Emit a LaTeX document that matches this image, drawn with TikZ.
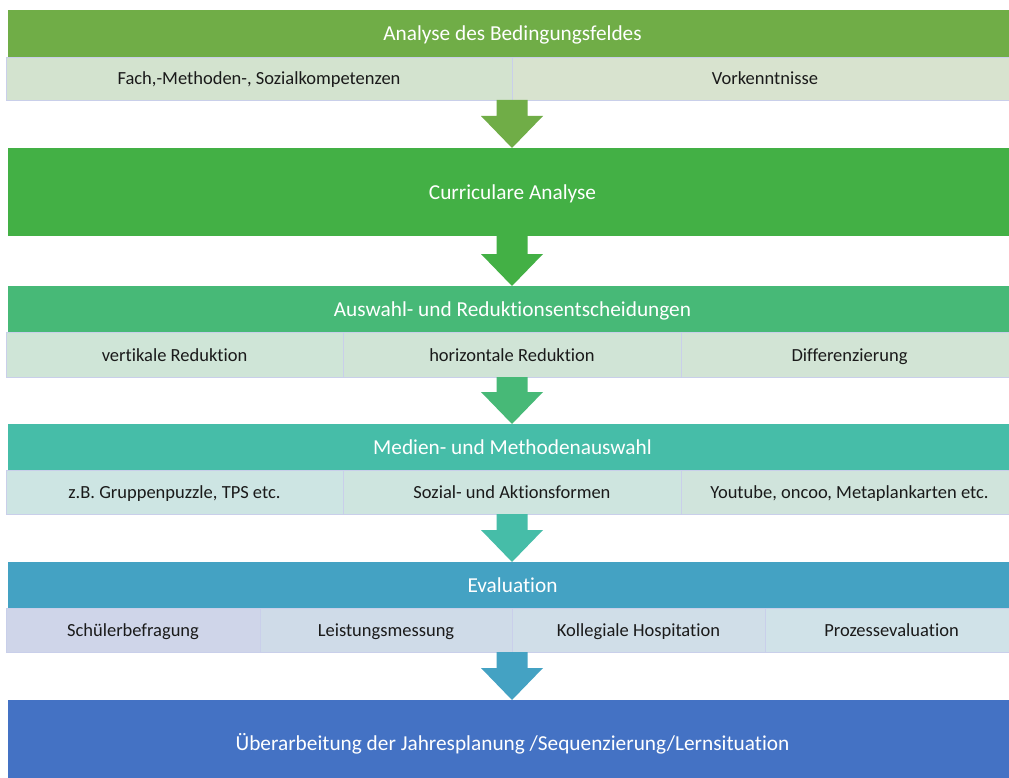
\documentclass[tikz,border=0pt]{standalone}
\usepackage{fontspec}
\setmainfont{Carlito}[Ligatures=NoCommon]
\usetikzlibrary{calc}

% band colours
\definecolor{bandA}{HTML}{70AD47}
\definecolor{bandB}{HTML}{43B045}
\definecolor{bandC}{HTML}{47B977}
\definecolor{bandD}{HTML}{46BDA8}
\definecolor{bandE}{HTML}{44A2C3}
\definecolor{bandF}{HTML}{4472C4}
% cell colours
\definecolor{cellA1}{HTML}{D3E3CF}
\definecolor{cellA2}{HTML}{D8E3CF}
\definecolor{cellC1}{HTML}{CFE5D7}
\definecolor{cellC2}{HTML}{D0E4D6}
\definecolor{cellC3}{HTML}{D2E4D5}
\definecolor{cellD1}{HTML}{CDE5E3}
\definecolor{cellD2}{HTML}{CEE5DF}
\definecolor{cellD3}{HTML}{D0E4DC}
\definecolor{cellE1}{HTML}{CFD5E9}
\definecolor{cellE2}{HTML}{CFDBE8}
\definecolor{cellE3}{HTML}{D0DEE8}
\definecolor{cellE4}{HTML}{D0E2E8}
\definecolor{cellline}{HTML}{C9CFEA}
\definecolor{celltext}{HTML}{1A1A1A}

\tikzset{
  band/.style={anchor=north west, inner sep=0pt, outer sep=0pt, text=white,
    font=\fontsize{21.3}{25}\selectfont, minimum width=1009pt,
    text height=17pt, text depth=2pt},
  cell/.style={anchor=north west, inner sep=0pt, outer sep=0pt, text=celltext,
    font=\fontsize{18.5}{22}\selectfont, draw=cellline, line width=0.8pt,
    text height=15pt, text depth=2pt},
}

% block arrow from the bottom of #1 to the top of #2, filled with #3
\newcommand\flowarrow[3]{%
  \fill[#3] let \p1=(#1.south -| axis), \p2=(#2.north -| axis) in
    (\x1-15.5pt,\y1) -- (\x1+15.5pt,\y1) -- (\x1+15.5pt,\y2+32pt)
    -- (\x1+31pt,\y2+32pt) -- (\x1,\y2) -- (\x1-31pt,\y2+32pt)
    -- (\x1-15.5pt,\y2+32pt) -- cycle;}

\begin{document}
\begin{tikzpicture}[x=1pt,y=-1pt]
\useasboundingbox[fill=white] (0,0) rectangle (1009,778);
\coordinate (axis) at (512,0);

% stage 1
\node[band, fill=bandA, minimum height=47pt] (s1) at (8,10) {Analyse des Bedingungsfeldes};
\node[cell, fill=cellA1, minimum width=506pt, minimum height=43pt] (s1a) at (6,57) {Fach,-Methoden-, Sozialkompetenzen};
\node[cell, fill=cellA2, minimum width=506pt, minimum height=43pt] (s1b) at (512,57) {Vorkenntnisse};

% stage 2
\node[band, fill=bandB, minimum height=88pt] (s2) at (8,148) {Curriculare Analyse};

% stage 3
\node[band, fill=bandC, minimum height=46pt] (s3) at (8,286) {Auswahl- und Reduktionsentscheidungen};
\node[cell, fill=cellC1, minimum width=337pt, minimum height=45pt] (s3a) at (6,332) {vertikale Reduktion};
\node[cell, fill=cellC2, minimum width=338pt, minimum height=45pt] (s3b) at (343,332) {horizontale Reduktion};
\node[cell, fill=cellC3, minimum width=337pt, minimum height=45pt] (s3c) at (681,332) {Differenzierung};

% stage 4
\node[band, fill=bandD, minimum height=46pt] (s4) at (8,424) {Medien- und Methodenauswahl};
\node[cell, fill=cellD1, minimum width=337pt, minimum height=44pt] (s4a) at (6,470) {z.B. Gruppenpuzzle, TPS etc.};
\node[cell, fill=cellD2, minimum width=338pt, minimum height=44pt] (s4b) at (343,470) {Sozial- und Aktionsformen};
\node[cell, fill=cellD3, minimum width=337pt, minimum height=44pt] (s4c) at (681,470) {Youtube, oncoo, Metaplankarten etc.};

% stage 5
\node[band, fill=bandE, minimum height=46pt] (s5) at (8,562) {Evaluation};
\node[cell, fill=cellE1, minimum width=254pt, minimum height=44pt] (s5a) at (6,608) {Schülerbefragung};
\node[cell, fill=cellE2, minimum width=252pt, minimum height=44pt] (s5b) at (260,608) {Leistungsmessung};
\node[cell, fill=cellE3, minimum width=253pt, minimum height=44pt] (s5c) at (512,608) {Kollegiale Hospitation};
\node[cell, fill=cellE4, minimum width=253pt, minimum height=44pt] (s5d) at (765,608) {Prozessevaluation};

% stage 6
\node[band, fill=bandF, minimum height=86pt] (s6) at (8,700) {Überarbeitung der Jahresplanung /Sequenzierung/Lernsituation};

% arrows between the stages
\flowarrow{s1a}{s2}{bandA}
\flowarrow{s2}{s3}{bandB}
\flowarrow{s3a}{s4}{bandC}
\flowarrow{s4a}{s5}{bandD}
\flowarrow{s5a}{s6}{bandE}
\end{tikzpicture}
\end{document}
